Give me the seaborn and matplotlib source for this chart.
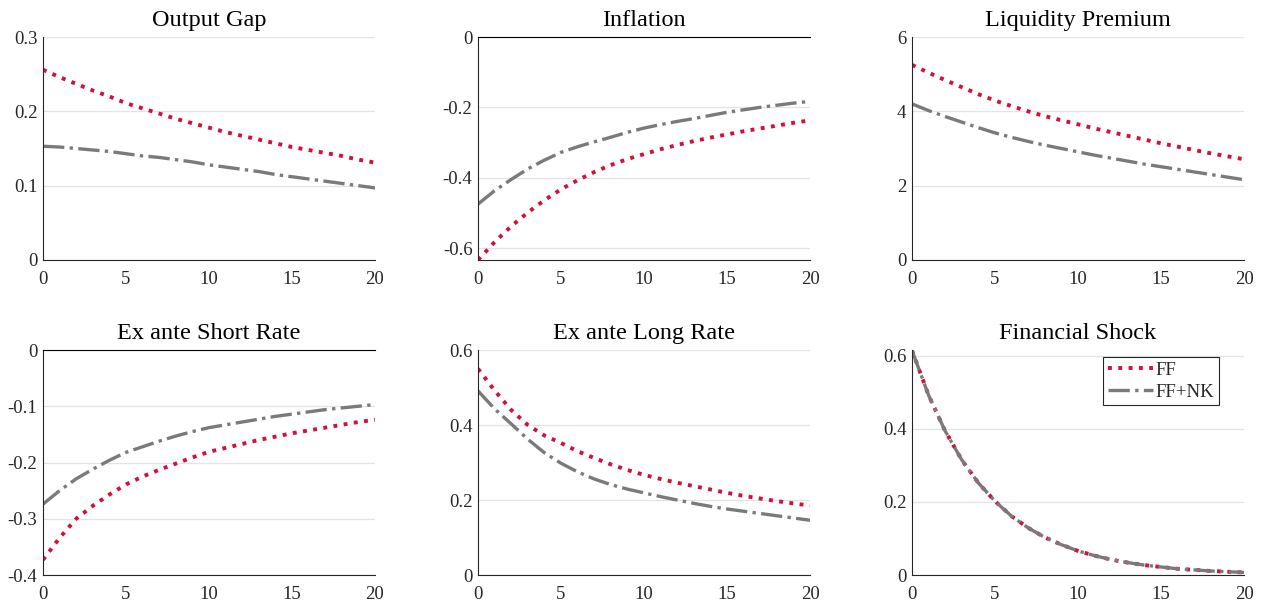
import numpy as np
import pandas as pd
import matplotlib
matplotlib.use("Agg")
import matplotlib.pyplot as plt
import seaborn as sns
from matplotlib.ticker import FuncFormatter

sns.set_theme(style="white")
plt.rcParams['font.family'] = ['Liberation Serif', 'DejaVu Serif']
plt.rcParams['axes.unicode_minus'] = False

horizon = list(range(21))

titles = ["Output Gap", "Inflation", "Liquidity Premium",
          "Ex ante Short Rate", "Ex ante Long Rate", "Financial Shock"]

output_gap_ff = [0.256, 0.246, 0.237, 0.228, 0.220, 0.211, 0.204, 0.197, 0.190, 0.184, 0.178,
                 0.172, 0.167, 0.162, 0.157, 0.152, 0.148, 0.144, 0.140, 0.135, 0.131]
output_gap_nk = [0.153, 0.152, 0.150, 0.148, 0.146, 0.143, 0.140, 0.138, 0.135, 0.132, 0.128,
                 0.125, 0.122, 0.119, 0.115, 0.112, 0.109, 0.106, 0.103, 0.100, 0.097]

inflation_ff = [-0.634, -0.583, -0.538, -0.499, -0.464, -0.433, -0.407, -0.384, -0.364, -0.347, -0.333,
                -0.319, -0.307, -0.296, -0.286, -0.277, -0.268, -0.260, -0.252, -0.244, -0.237]
inflation_nk = [-0.475, -0.437, -0.405, -0.375, -0.350, -0.328, -0.312, -0.298, -0.285, -0.271, -0.259,
                -0.249, -0.240, -0.232, -0.223, -0.214, -0.207, -0.200, -0.194, -0.188, -0.183]

liquidity_ff = [5.25, 5.04, 4.84, 4.65, 4.46, 4.29, 4.14, 4.00, 3.87, 3.76, 3.65,
                3.54, 3.44, 3.34, 3.24, 3.14, 3.05, 2.96, 2.87, 2.79, 2.71]
liquidity_nk = [4.20, 4.02, 3.86, 3.71, 3.56, 3.42, 3.30, 3.19, 3.09, 3.00, 2.91,
                2.82, 2.74, 2.66, 2.58, 2.51, 2.44, 2.37, 2.30, 2.23, 2.16]

short_rate_ff = [-0.373, -0.334, -0.300, -0.277, -0.257, -0.239, -0.225, -0.213, -0.202, -0.191, -0.181,
                 -0.174, -0.167, -0.160, -0.154, -0.148, -0.143, -0.138, -0.133, -0.128, -0.124]
short_rate_nk = [-0.274, -0.250, -0.229, -0.212, -0.196, -0.182, -0.172, -0.162, -0.153, -0.145, -0.138,
                 -0.133, -0.128, -0.123, -0.118, -0.114, -0.110, -0.106, -0.103, -0.100, -0.097]

long_rate_ff = [0.550, 0.492, 0.440, 0.400, 0.372, 0.352, 0.330, 0.312, 0.295, 0.280, 0.267,
                0.256, 0.246, 0.237, 0.228, 0.219, 0.211, 0.204, 0.197, 0.191, 0.185]
long_rate_nk = [0.491, 0.443, 0.403, 0.362, 0.326, 0.298, 0.275, 0.256, 0.241, 0.229, 0.219,
                0.209, 0.200, 0.191, 0.183, 0.176, 0.170, 0.164, 0.158, 0.152, 0.146]

fin_shock_ff = [0.615, 0.492, 0.394, 0.315, 0.252, 0.202, 0.161, 0.129, 0.103, 0.083, 0.066,
                0.053, 0.042, 0.034, 0.027, 0.022, 0.017, 0.014, 0.011, 0.009, 0.007]
fin_shock_nk = [0.615, 0.492, 0.394, 0.315, 0.252, 0.202, 0.161, 0.129, 0.103, 0.083, 0.066,
                0.053, 0.042, 0.034, 0.027, 0.022, 0.017, 0.014, 0.011, 0.009, 0.007]

series_ff = [output_gap_ff, inflation_ff, liquidity_ff, short_rate_ff, long_rate_ff, fin_shock_ff]
series_nk = [output_gap_nk, inflation_nk, liquidity_nk, short_rate_nk, long_rate_nk, fin_shock_nk]

ylims = [(0, 0.3), (-0.634, 0), (0, 6), (-0.4, 0), (0, 0.6), (0, 0.616)]
yticks = [[0, 0.1, 0.2, 0.3], [-0.6, -0.4, -0.2, 0], [0, 2, 4, 6],
          [-0.4, -0.3, -0.2, -0.1, 0], [0, 0.2, 0.4, 0.6], [0, 0.2, 0.4, 0.6]]
xticks = [0, 5, 10, 15, 20]

RED = "#D40F3C"
GRAY = "#7A7A7A"

fig = plt.figure(figsize=(12.63, 6.05), dpi=100)
W, H = 1263, 605
lefts = [43, 478, 912]
width = 332
tops = [37, 350]
bottoms = [260, 575]

fmt = FuncFormatter(lambda v, p: ("%g" % round(v, 6)))

for i in range(6):
    r, c = divmod(i, 3)
    ax = fig.add_axes([lefts[c] / W, 1 - bottoms[r] / H, width / W, (bottoms[r] - tops[r]) / H])
    df = pd.DataFrame({"t": horizon, "FF": series_ff[i], "FF+NK": series_nk[i]})
    sns.lineplot(data=df, x="t", y="FF", ax=ax, color=RED, linestyle=":", linewidth=2.8, label="FF")
    sns.lineplot(data=df, x="t", y="FF+NK", ax=ax, color=GRAY, linestyle="-.", linewidth=2.4, label="FF+NK")
    ax.set_xlim(0, 20)
    ax.set_ylim(*ylims[i])
    ax.set_xticks(xticks)
    ax.set_yticks(yticks[i])
    ax.yaxis.set_major_formatter(fmt)
    ax.xaxis.set_major_formatter(fmt)
    ax.set_xlabel("")
    ax.set_ylabel("")
    ax.set_title(titles[i], fontsize=17.5, pad=8, color="black")
    ax.grid(axis="y", color="#E3E3E3", linewidth=0.9)
    ax.grid(axis="x", visible=False)
    ax.set_axisbelow(True)
    for s in ["top", "right"]:
        ax.spines[s].set_visible(False)
    for s in ["left", "bottom"]:
        ax.spines[s].set_color("#262626")
        ax.spines[s].set_linewidth(0.8)
    if ylims[i][1] == 0:
        ax.spines["top"].set_visible(True)
        ax.spines["top"].set_color("black")
        ax.spines["top"].set_linewidth(0.8)
    ax.tick_params(axis="both", direction="in", length=3, width=0.8, colors="#262626",
                   labelsize=13.5, pad=4, labelcolor="#262626")
    ax.tick_params(axis="x", pad=8)
    if i == 5:
        leg = ax.legend(loc="upper right", bbox_to_anchor=(0.935, 0.985), fontsize=13.5,
                        frameon=True, fancybox=False, edgecolor="#262626", framealpha=1,
                        handlelength=2.4, borderpad=0.25, labelspacing=0.25, handletextpad=0.15,
                        borderaxespad=0.2)
        leg.get_frame().set_linewidth(0.8)
    else:
        ax.get_legend().remove()

fig.savefig("out.png", dpi=100)
